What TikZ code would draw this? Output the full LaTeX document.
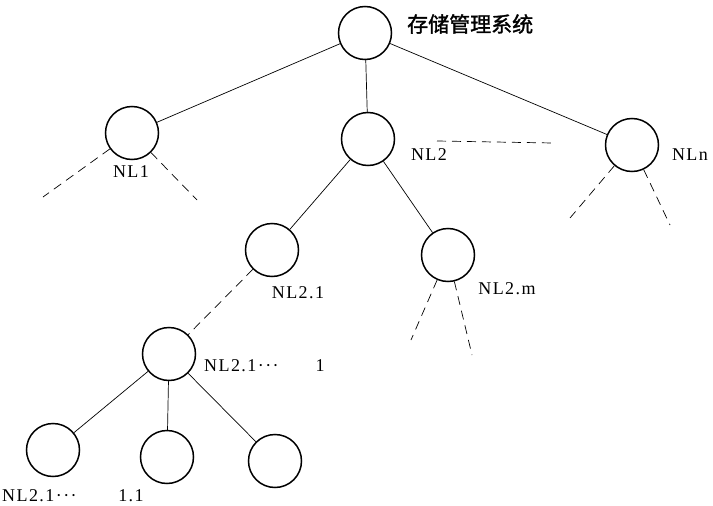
\documentclass[tikz,border=0pt]{standalone}
\usepackage{fontspec}
\setmainfont{Liberation Serif}[LetterSpace=8]
\newfontfamily\cjk[FakeBold=1.5]{Noto Sans CJK SC}
\begin{document}
\begin{tikzpicture}[x=1pt,y=-1pt,
  nd/.style={draw,circle,minimum size=53pt,inner sep=0pt,line width=1.5pt},
  lbl/.style={font=\fontsize{18}{18}\selectfont,inner sep=0pt},
  edge/.style={line width=0.7pt},
  dsh/.style={line width=0.7pt,dash pattern=on 9pt off 6pt}]
\useasboundingbox (0,0) rectangle (713,506);
% nodes
\node[nd] (root) at (365,33) {};
\node[nd] (nl1) at (132,133) {};
\node[nd] (nl2) at (368,139) {};
\node[nd] (nln) at (632,145) {};
\node[nd] (nl21) at (272,250) {};
\node[nd] (nl2m) at (448,255) {};
\node[nd] (nl211) at (169,354) {};
\node[nd] (c1) at (53,450) {};
\node[nd] (c2) at (167,457) {};
\node[nd] (c3) at (275,461) {};
% labels
\node[inner sep=0pt,anchor=west,font=\fontsize{21}{21}\selectfont\cjk] (troot) at (407,24) {存储管理系统};
\node[lbl] (tnl1) at (131,172) {NL1};
\node[lbl] (tnl2) at (429,155) {NL2};
\node[lbl] (tnln) at (690,155) {NLn};
\node[lbl] (tnl21) at (298,293) {NL2.1};
\node[lbl] (tnl2m) at (507,289) {NL2.m};
\node[lbl,anchor=west] (tnl211) at (204,366) {NL2.1···};
\node[lbl] (tnl211b) at (320,366) {1};
\node[lbl,anchor=west] (tc1) at (2,496) {NL2.1···};
\node[lbl] (tc1b) at (131,496) {1.1};
% free ends
\coordinate (a1) at (43,197);
\coordinate (a2) at (197,200);
\coordinate (b1) at (570,218);
\coordinate (b2) at (670,225);
\coordinate (m1) at (411,340);
\coordinate (m2) at (472,355);
\coordinate (h1) at (437,141);
\coordinate (h2) at (553,143);
% connectors
\draw[edge] (root) -- (nl1);
\draw[edge] (root) -- (nl2);
\draw[edge] (root) -- (nln);
\draw[edge] (nl2) -- (nl21);
\draw[edge] (nl2) -- (nl2m);
\draw[dsh] (nl21) -- (nl211);
\draw[edge] (nl211) -- (c1);
\draw[edge] (nl211) -- (c2);
\draw[edge] (nl211) -- (c3);
\draw[dsh] (nl1) -- (a1);
\draw[dsh] (nl1) -- (a2);
\draw[dsh] (nln) -- (b1);
\draw[dsh] (nln) -- (b2);
\draw[dsh] (nl2m) -- (m1);
\draw[dsh] (nl2m) -- (m2);
\draw[dsh] (h1) -- (h2);
\end{tikzpicture}
\end{document}
